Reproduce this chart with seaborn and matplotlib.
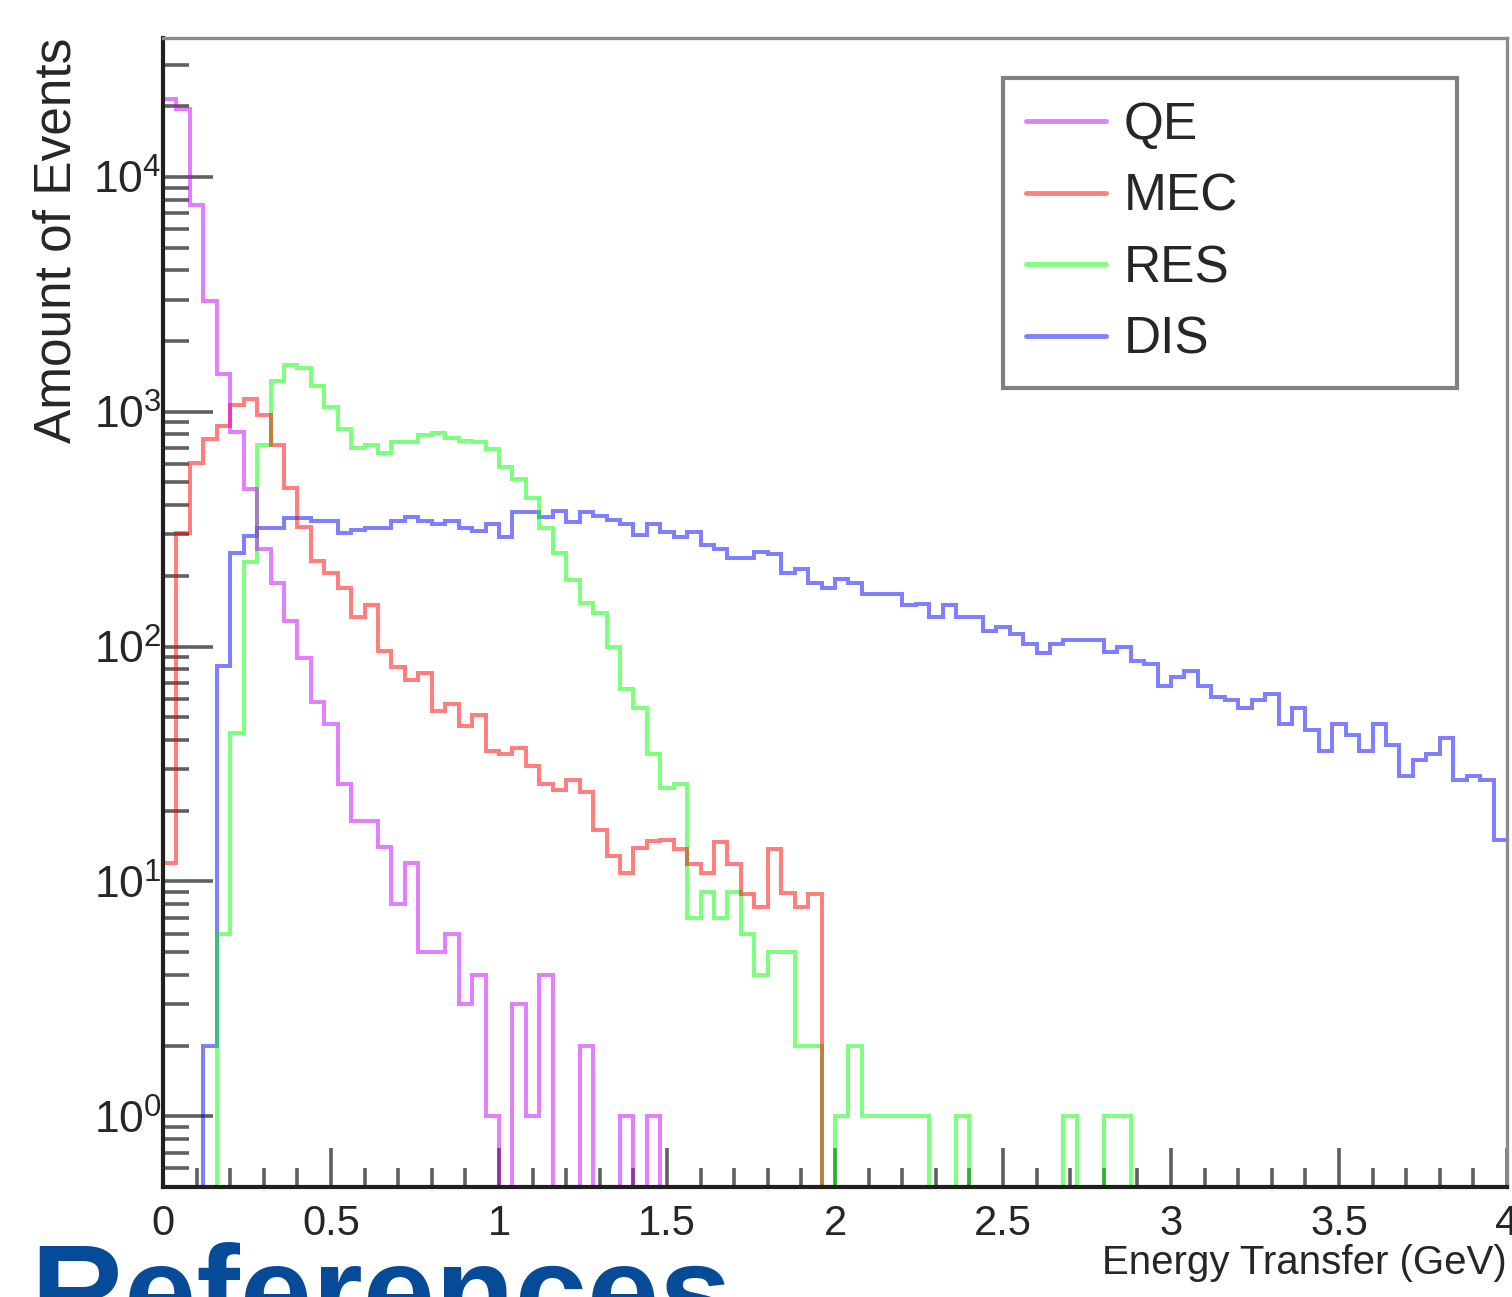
import numpy as np
import pandas as pd
import matplotlib
matplotlib.use("Agg")
import matplotlib.pyplot as plt
import seaborn as sns
from matplotlib.ticker import MultipleLocator, FuncFormatter, NullFormatter, LogLocator

# ---------------- data (events per 0.04 GeV bin, 0-4 GeV) ----------------
channels = ["QE", "MEC", "RES", "DIS"]
n_bins = 100
e_min, e_max = 0.0, 4.0

qe = [21500, 19500, 7600, 2970, 1450, 820, 470, 260, 187, 129,
      89, 58, 47, 26, 18, 18, 14, 8, 12, 5,
      5, 6, 3, 4, 1, 0, 3, 1, 4, 0,
      0, 2, 0, 0, 1, 0, 1] + [0] * 63

mec = [12, 303, 604, 763, 869, 1065, 1137, 970, 722, 472,
       322, 231, 205, 178, 134, 151, 96, 82, 72, 77,
       53, 57, 46, 51, 36, 35, 37, 31, 26, 24.5,
       27, 24, 16.6, 12.8, 10.9, 13.9, 14.9, 15, 13.8, 11.9,
       10.9, 14.7, 11.9, 8.8, 7.8, 13.8, 8.9, 7.8, 8.8] + [0] * 51

res = [0, 0, 0, 0, 6, 43, 229, 721, 1350, 1582,
       1541, 1282, 1046, 843, 701, 721, 670, 743, 743, 792,
       813, 771, 749, 743, 695, 582, 517, 430, 320, 251,
       192, 153, 139, 100, 66, 55, 35, 25, 26, 7,
       9, 7, 9, 6, 4, 5, 5, 2, 2, 0,
       1, 2, 1, 1, 1, 1, 1, 0, 0, 1,
       0, 0, 0, 0, 0, 0, 0, 1, 0, 0,
       1, 1] + [0] * 28

dis = [0, 0, 0, 2, 83, 251, 297, 320, 320, 351,
       351, 344, 344, 303, 314, 320, 320, 344, 355, 344,
       332, 344, 320, 311, 332, 292, 373, 373, 357, 378,
       338, 373, 359, 347, 332, 299, 334, 306, 292, 306,
       270, 261, 238, 238, 253, 247, 205, 213, 187, 177,
       194, 187, 167, 167, 167, 150, 152, 133, 151, 133,
       133, 116, 121, 113, 103, 94, 103, 107, 107, 107,
       95, 100, 87, 84, 68, 74, 79, 68, 61, 59,
       55, 59, 63, 47, 55, 44, 36, 47, 42, 36,
       47, 38, 28, 33, 35, 41, 27, 28, 27, 15]

x_ticks_major = 0.5
x_ticks_minor = 0.1

# ---------------- fonts ----------------
sns.set_style("white")
font = ["Liberation Sans", "DejaVu Sans"]
plt.rcParams["font.family"] = font
plt.rcParams["mathtext.fontset"] = "custom"
plt.rcParams["mathtext.rm"] = "Liberation Sans"

# ---------------- build table ----------------
edges = np.linspace(e_min, e_max, n_bins + 1)
centers = 0.5 * (edges[:-1] + edges[1:])
series = {"QE": qe, "MEC": mec, "RES": res, "DIS": dis}
df = pd.concat([
    pd.DataFrame({"energy": centers, "events": np.asarray(v, float), "channel": c})
    for c, v in series.items()
], ignore_index=True)

palette = {"QE": (0.78, 0.0, 0.97), "MEC": (1.0, 0.0, 0.0),
           "RES": (0.0, 1.0, 0.0), "DIS": (0.0, 0.0, 1.0)}

W, H = 1512, 1297
fig = plt.figure(figsize=(W / 100, H / 100), dpi=100)
ax = fig.add_axes([163 / W, 1 - 1187 / H, (1507 - 163) / W, (1187 - 38) / H])

sns.histplot(data=df, x="energy", weights="events", hue="channel",
             hue_order=channels, palette=palette, bins=edges.tolist(),
             element="step", fill=False, linewidth=2.9, ax=ax, legend=True)
for ln in ax.lines:
    ln.set_alpha(0.5)
    ln.set_solid_joinstyle("miter")

ax.set_yscale("log")
ax.set_xlim(e_min, e_max)
ax.set_ylim(0.5, 3.9e4)

# ---------------- axes styling (ROOT look) ----------------
for s in ["left", "bottom"]:
    ax.spines[s].set_color("#202020")
    ax.spines[s].set_linewidth(3)
for s in ["top", "right"]:
    ax.spines[s].set_color("#8a8a8a")
    ax.spines[s].set_linewidth(2.4)

ax.xaxis.set_major_locator(MultipleLocator(x_ticks_major))
ax.xaxis.set_minor_locator(MultipleLocator(x_ticks_minor))
ax.xaxis.set_major_formatter(FuncFormatter(lambda v, p: f"{v:g}"))
ax.yaxis.set_major_locator(LogLocator(base=10, numticks=20))
ax.yaxis.set_minor_locator(LogLocator(base=10, subs=np.arange(2, 10), numticks=60))
ax.yaxis.set_major_formatter(FuncFormatter(
    lambda v, p: r"$\mathregular{10^{%d}}$" % int(round(np.log10(v)))))
ax.yaxis.set_minor_formatter(NullFormatter())

tick_col = "#606060"
ax.tick_params(axis="x", which="both", direction="in", bottom=True, top=False,
               color=tick_col, width=2.6)
ax.tick_params(axis="x", which="major", length=28, pad=12, labelsize=30)
ax.tick_params(axis="x", which="minor", length=13.5)
ax.tick_params(axis="y", which="both", direction="in", left=True, right=False,
               color=tick_col, width=2.6)
ax.tick_params(axis="y", which="major", length=36, pad=1, labelsize=32)
ax.tick_params(axis="y", which="minor", length=18.5)

ax.set_xlabel("Energy Transfer (GeV)", fontsize=29)
ax.xaxis.set_label_coords(1.0, -0.0495)
ax.xaxis.label.set_ha("right")
ax.xaxis.label.set_va("top")

ax.set_ylabel("Amount of Events", fontsize=37)
ax.yaxis.set_label_coords(-0.0789, 1.0)
ax.yaxis.label.set_ha("right")
ax.yaxis.label.set_va("center")

# ---------------- legend ----------------
lx0, lx1, ly0, ly1 = 1003 / W, 1457 / W, 1 - 381 / H, 1 - 78 / H
sns.move_legend(ax, "upper left", bbox_to_anchor=(lx0, ly0, lx1 - lx0, ly1 - ly0),
                bbox_transform=fig.transFigure, mode="expand", title="",
                frameon=True, fancybox=False, framealpha=1, edgecolor="#808080",
                borderaxespad=0, borderpad=0.45, labelspacing=0.44,
                handlelength=1.56, handletextpad=0.33,
                prop={"family": font, "size": 37})
leg = ax.get_legend()
leg.get_frame().set_linewidth(3)
for h in leg.legend_handles:
    h.set_linewidth(3.5)
    h.set_alpha(0.5)

# ---------------- slide heading partially visible at bottom ----------------
fig.text(30 / W, 1 - 1336 / H, "References", fontsize=93.6, fontweight="bold",
         color="#064b98", family=font, ha="left", va="baseline")

fig.savefig("out.png", dpi=100)
